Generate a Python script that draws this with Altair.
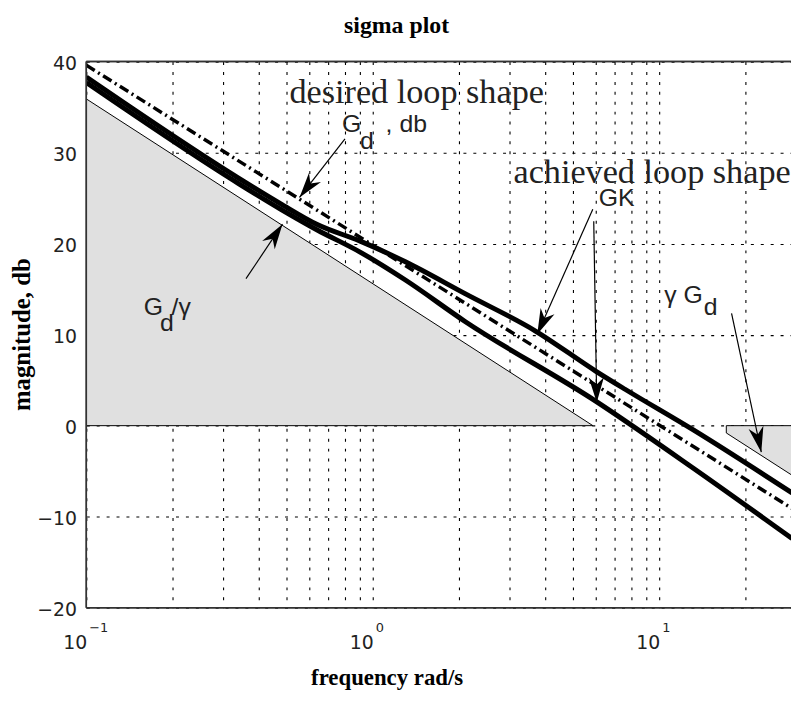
import math
import altair as alt
import pandas as pd

# ---------------- values ----------------
# achieved loop shape GK (two singular values)
gk_hi_freq = [0.1, 0.34, 0.476, 0.64, 0.9, 1.3, 2.1, 3.7, 6.0, 7.6, 13.2, 29.1]
gk_hi_db = [38.3, 27.2, 24.4, 22.1, 20.3, 18.0, 14.5, 10.4, 6.0, 4.0, -0.5, -7.4]
gk_lo_freq = [0.1, 0.34, 0.476, 0.64, 0.9, 1.3, 2.1, 6.0, 13.2, 29.1]
gk_lo_db = [37.7, 26.6, 23.8, 21.5, 19.1, 16.0, 11.45, 2.7, -4.7, -12.4]
# desired loop shape Gd
gd_freq = [0.1, 29.1]
gd_db = [39.6, -9.1]
# shaded bounds Gd/gamma and gamma*Gd
gdg_freq = [0.1, 5.87]
gdg_db = [35.9, 0.0]
ggd_freq = [17.15, 29.1]
ggd_db = [-0.8, -5.45]

# axis ticks
x_grid = [0.1, 0.2, 0.3, 0.4, 0.5, 0.6, 0.7, 0.8, 0.9, 1, 2, 3, 4, 5, 6, 7, 8, 9, 10, 20]
x_major = [0.1, 1, 10]
x_exp = ["\u22121", "0", "1"]
y_ticks = [-20, -10, 0, 10, 20, 30, 40]
X_MIN, X_MAX = 0.1, 28.85
Y_MIN, Y_MAX = -20, 40

# annotations (data coordinates)
title_text = ["sigma plot"]
title_f = [1.211]
title_db = [40]
serif_text = ["desired loop shape", "achieved loop shape"]
serif_f = [0.512, 3.099]
serif_db = [35.43, 26.71]
sans_text = ["G", "d", ", db", "GK", "G", "d", "/\u03b3", "\u03b3 G", "d"]
sans_f = [0.781, 0.902, 1.109, 6.15, 0.1587, 0.1810, 0.1984, 10.41, 14.3]
sans_db = [32.27, 30.42, 32.27, 24.1, 12.12, 10.38, 12.12, 13.43, 12.12]
arrow_f1 = [0.361, 0.800, 5.864, 5.909, 17.89]
arrow_db1 = [16.15, 31.51, 23.77, 22.47, 12.34]
arrow_f2 = [0.484, 0.555, 3.753, 6.053, 22.72]
arrow_db2 = [22.14, 25.08, 10.05, 2.54, -2.91]

# ---------------- layout ----------------
W, H = 711, 551
px_per_dec = W / (math.log10(X_MAX) - math.log10(X_MIN))
px_per_db = H / (Y_MAX - Y_MIN)

XS = alt.Scale(type="log", domain=[X_MIN, X_MAX], nice=False)
YS = alt.Scale(domain=[Y_MIN, Y_MAX], nice=False)
XAX = alt.Axis(values=x_grid, labels=False, title="frequency rad/s",
               titleFont="Liberation Serif", titleFontWeight="bold", titleFontSize=23,
               titleColor="black", titleX=303, titleY=77, titleBaseline="alphabetic",
               titleAlign="center", titleAngle=0)
YAX = alt.Axis(values=y_ticks, title="magnitude, db", labelFont="DejaVu Sans",
               labelFontSize=19, labelColor="#222", labelPadding=10, labelOffset=2,
               titleFont="Liberation Serif", titleFontWeight="bold", titleFontSize=25,
               titleColor="black", titleX=-57, titleY=275, titleAngle=270,
               titleBaseline="alphabetic", titleAlign="center")


def X(field="f"):
    return alt.X(f"{field}:Q", scale=XS, axis=XAX)


def Y(field="db"):
    return alt.Y(f"{field}:Q", scale=YS, axis=YAX)


gk_df = pd.concat([
    pd.DataFrame({"f": gk_hi_freq, "db": gk_hi_db, "s": "hi"}),
    pd.DataFrame({"f": gk_lo_freq, "db": gk_lo_db, "s": "lo"}),
])
gd_df = pd.DataFrame({"f": gd_freq, "db": gd_db})
gdg_df = pd.DataFrame({"f": gdg_freq, "db": gdg_db})
ggd_df = pd.DataFrame({"f": ggd_freq, "db": ggd_db})
gdg_edge = pd.DataFrame({"f": gdg_freq + [gdg_freq[0]], "db": gdg_db + [0.0],
                         "o": list(range(len(gdg_freq) + 1))})
ggd_edge = pd.DataFrame({"f": [ggd_freq[-1], ggd_freq[0]] + ggd_freq,
                         "db": [0.0, 0.0] + ggd_db,
                         "o": list(range(len(ggd_freq) + 2))})


def ang(f1, d1, f2, d2):
    dxp = (math.log10(f2) - math.log10(f1)) * px_per_dec
    dyp = -(d2 - d1) * px_per_db
    return math.degrees(math.atan2(dxp, -dyp)) % 360


arrows = pd.DataFrame({"f": arrow_f1, "db": arrow_db1, "f2": arrow_f2, "db2": arrow_db2})
heads = pd.DataFrame({"f": arrow_f2, "db": arrow_db2,
                      "ang": [ang(a, b, c, d) for a, b, c, d in
                              zip(arrow_f1, arrow_db1, arrow_f2, arrow_db2)]})
title_df = pd.DataFrame({"f": title_f, "db": title_db, "t": title_text})
serif_df = pd.DataFrame({"f": serif_f, "db": serif_db, "t": serif_text})
sans_df = pd.DataFrame({"f": sans_f, "db": sans_db, "t": sans_text})
xlab_df = pd.DataFrame({"f": x_major, "db": [Y_MIN] * 3, "e": x_exp, "t": ["10"] * 3})

FILL = "#e0e0e0"
area1 = alt.Chart(gdg_df).mark_area(color=FILL, opacity=1, clip=True).encode(
    x=X(), y=Y(), y2=alt.datum(0))
area2 = alt.Chart(ggd_df).mark_area(color=FILL, opacity=1, clip=True).encode(
    x=X(), y=Y(), y2=alt.datum(0))
edge1 = alt.Chart(gdg_edge).mark_line(color="black", strokeWidth=1, clip=True).encode(
    x=X(), y=Y(), order="o:Q")
edge2 = alt.Chart(ggd_edge).mark_line(color="black", strokeWidth=1, clip=True).encode(
    x=X(), y=Y(), order="o:Q")
gk = alt.Chart(gk_df).mark_line(color="black", strokeWidth=5, interpolate="monotone",
                                clip=True).encode(x=X(), y=Y(), detail="s:N")
gd = alt.Chart(gd_df).mark_line(color="black", strokeWidth=3.5, strokeDash=[10, 4, 2, 4],
                                clip=True).encode(x=X(), y=Y())
shafts = alt.Chart(arrows).mark_rule(color="black", strokeWidth=1.2).encode(
    x=X(), y=Y(), x2="f2:Q", y2="db2:Q")
ARROW = "M0,0 L0.6,2 L0,1.4 L-0.6,2 Z"
tips = alt.Chart(heads).mark_point(shape=ARROW, filled=True, size=650, color="black",
                                   opacity=1, strokeWidth=0).encode(
    x=X(), y=Y(), angle=alt.Angle("ang:Q", scale=None))
title = alt.Chart(title_df).mark_text(align="center", baseline="alphabetic", dy=-29,
                                      font="Liberation Serif", fontWeight="bold",
                                      fontSize=24, color="black").encode(
    x=X(), y=Y(), text="t:N")
serif_lbl = alt.Chart(serif_df).mark_text(align="left", baseline="alphabetic",
                                          font="Liberation Serif", fontSize=34.5,
                                          color="#222").encode(x=X(), y=Y(), text="t:N")
sans_lbl = alt.Chart(sans_df).mark_text(align="left", baseline="alphabetic",
                                        font="Liberation Sans", fontSize=25,
                                        color="#222").encode(x=X(), y=Y(), text="t:N")
xlab = alt.Chart(xlab_df).mark_text(align="right", baseline="alphabetic", dx=1, dy=42,
                                    font="DejaVu Sans", fontSize=19, color="#222").encode(
    x=X(), y=Y(), text="t:N")
xexp = alt.Chart(xlab_df).mark_text(align="left", baseline="alphabetic", dx=3, dy=25,
                                    font="DejaVu Sans", fontSize=13, color="#222").encode(
    x=X(), y=Y(), text="e:N")
top = alt.Chart(gd_df).mark_rule(color="#333", strokeWidth=1.5).encode(y=alt.datum(Y_MAX))
bottom = alt.Chart(gd_df).mark_rule(color="#333", strokeWidth=1.5).encode(y=alt.datum(Y_MIN))
left = alt.Chart(gd_df).mark_rule(color="#333", strokeWidth=1.5).encode(x=alt.datum(X_MIN))

chart = alt.layer(
    area1, area2, edge1, edge2, gk, gd, shafts, tips, title, serif_lbl, sans_lbl, xlab,
    xexp, top, bottom, left
).properties(
    width=W, height=H,
    background="white",
    padding={"left": 79, "top": 51, "right": 0, "bottom": 84},
    autosize=alt.AutoSizeParams(type="none"),
).configure_view(stroke=None).configure_axis(
    grid=True, gridColor="black", gridDash=[3, 7], gridWidth=1.1, gridOpacity=1,
    domain=False, ticks=False, tickSize=0,
)

chart.save("out.html", embed_options={"renderer": "svg", "actions": False})
